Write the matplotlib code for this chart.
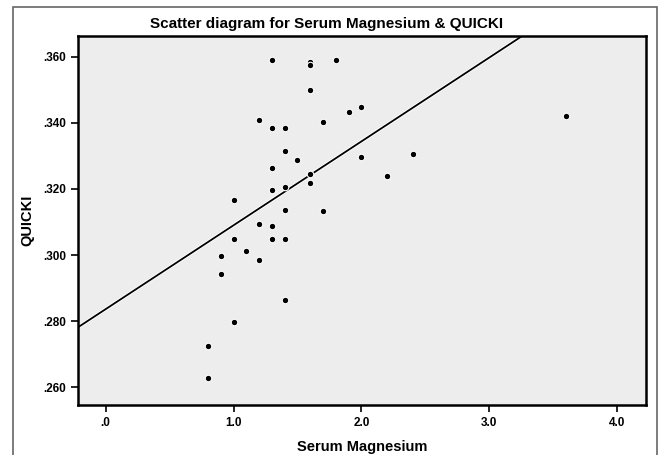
import numpy as np
import matplotlib.pyplot as plt
from matplotlib.patches import Rectangle
from matplotlib.ticker import FuncFormatter

plt.rcParams['font.family'] = ['Liberation Sans', 'DejaVu Sans']

# serum magnesium vs QUICKI
magnesium = [1.3, 1.6, 1.6, 1.8, 1.6, 1.9, 2.0, 1.2, 1.3, 1.4,
             1.7, 1.4, 1.5, 2.0, 2.4, 1.3, 2.2, 1.6, 1.6, 1.4,
             1.3, 1.0, 1.4, 1.7, 1.2, 1.3, 1.0, 1.3, 1.4, 1.1,
             1.2, 0.9, 0.9, 1.4, 1.0, 0.8, 0.8, 3.6]
quicki = [.3591, .3585, .3576, .3591, .3501, .3432, .3447, .3410, .3386, .3386,
          .3404, .3314, .3287, .3296, .3305, .3263, .3239, .3245, .3218, .3206,
          .3197, .3167, .3137, .3134, .3095, .3089, .3047, .3047, .3047, .3013,
          .2986, .2998, .2944, .2863, .2797, .2725, .2628, .3420]

x_ticks = [0, 1, 2, 3, 4]
y_ticks = [.26, .28, .30, .32, .34, .36]

# least squares fit line, as SPSS draws it
slope, intercept = np.polyfit(magnesium, quicki, 1)

fig = plt.figure(figsize=(6.59, 4.55), dpi=100)
fig.patches.append(Rectangle((13 / 659, -0.05), 644 / 659, 1.05 - 7 / 455,
                             transform=fig.transFigure, fill=False,
                             edgecolor='#666666', linewidth=1.2))

ax = fig.add_axes([78 / 659, 1 - 405 / 455, 568 / 659, 369 / 455])
ax.set_facecolor('#ededed')

ax.scatter(magnesium, quicki, s=22, color='black', edgecolors='white',
           linewidths=0.8, zorder=3)

xs = np.array([-0.3, 4.3])
ax.plot(xs, intercept + slope * xs, color='white', linewidth=2.6, zorder=2)
ax.plot(xs, intercept + slope * xs, color='black', linewidth=1.3, zorder=2)

ax.set_xlim(-0.216, 4.225)
ax.set_ylim(.2546, .3663)
ax.set_xticks(x_ticks)
ax.set_yticks(y_ticks)
ax.xaxis.set_major_formatter(FuncFormatter(lambda v, p: f'{v:.1f}'.lstrip('0')))
ax.yaxis.set_major_formatter(FuncFormatter(lambda v, p: f'{v:.3f}'.lstrip('0')))
ax.tick_params(direction='out', length=5, width=1.2, labelsize=8.5)
for lab in ax.get_xticklabels() + ax.get_yticklabels():
    lab.set_fontweight('bold')
for sp in ax.spines.values():
    sp.set_linewidth(1.8)

fig.text(327 / 659, 1 - 24 / 455, 'Scatter diagram for Serum Magnesium & QUICKI',
         fontsize=11, fontweight='bold', ha='center', va='center')
ax.set_xlabel('Serum Magnesium', fontsize=10.5, fontweight='bold', labelpad=8)
ax.set_ylabel('QUICKI', fontsize=10.5, fontweight='bold', labelpad=6)

fig.savefig('out.png', dpi=100)
